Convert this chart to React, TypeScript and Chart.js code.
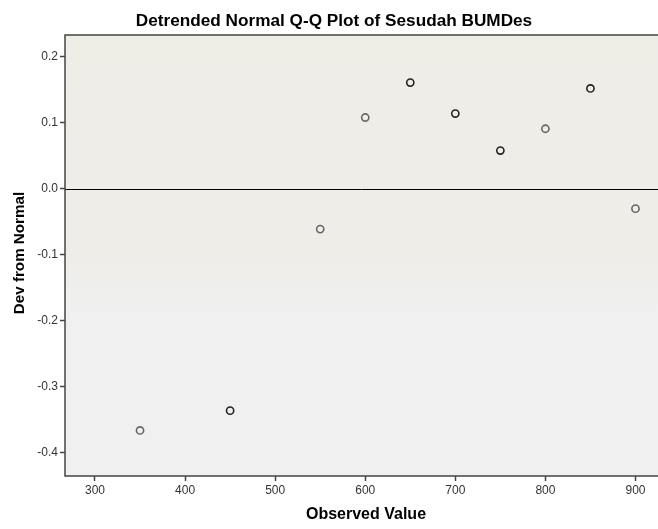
import React, { useEffect, useRef } from "react";
import { Chart, registerables } from "chart.js";

Chart.register(...registerables);

const observedValues = [350, 450, 550, 600, 650, 700, 750, 800, 850, 900];
const devFromNormal = [-0.366, -0.336, -0.061, 0.108, 0.161, 0.114, 0.058, 0.091, 0.152, -0.030];
const pointColors = ["#666666", "#222222", "#666666", "#666666", "#222222", "#222222", "#222222", "#666666", "#222222", "#666666"];
const xTicks = [300, 400, 500, 600, 700, 800, 900];
const yTicks = [-0.4, -0.3, -0.2, -0.1, 0.0, 0.1, 0.2];
const chartTitle = "Detrended Normal Q-Q Plot of Sesudah BUMDes";
const xTitle = "Observed Value";
const yTitle = "Dev from Normal";

const FONT = "Arial, 'Liberation Sans', sans-serif";

const decorPlugin = {
  id: "decor",
  beforeDatasetsDraw(chart: any) {
    const { ctx, chartArea } = chart;
    const { left, right, top, bottom } = chartArea;
    ctx.save();
    const g = ctx.createLinearGradient(0, top, 0, bottom);
    g.addColorStop(0, "#eeede6");
    g.addColorStop(0.5, "#eeede8");
    g.addColorStop(0.62, "#f0f0f0");
    g.addColorStop(1, "#f0f0f0");
    ctx.fillStyle = g;
    ctx.fillRect(left, top, right - left, bottom - top);
    // zero reference line
    const y0 = chart.scales.y.getPixelForValue(0);
    ctx.strokeStyle = "#000000";
    ctx.lineWidth = 1;
    ctx.beginPath();
    ctx.moveTo(left, Math.round(y0) + 0.5);
    ctx.lineTo(right, Math.round(y0) + 0.5);
    ctx.stroke();
    // frame
    ctx.strokeStyle = "#444444";
    ctx.lineWidth = 1.5;
    ctx.beginPath();
    ctx.moveTo(right, top);
    ctx.lineTo(left, top);
    ctx.lineTo(left, bottom);
    ctx.lineTo(right, bottom);
    ctx.stroke();
    ctx.restore();
  },
  afterDraw(chart: any) {
    const { ctx } = chart;
    ctx.save();
    ctx.fillStyle = "#000000";
    ctx.textAlign = "center";
    ctx.textBaseline = "middle";
    ctx.font = `bold 17.2px ${FONT}`;
    ctx.fillText(chartTitle, 334, 21);
    ctx.font = `bold 16px ${FONT}`;
    ctx.fillText(xTitle, 366, 515);
    ctx.translate(20, 253);
    ctx.rotate(-Math.PI / 2);
    ctx.font = `bold 15.2px ${FONT}`;
    ctx.fillText(yTitle, 0, 0);
    ctx.restore();
  },
};

export default function App() {
  const ref = useRef<HTMLCanvasElement | null>(null);
  useEffect(() => {
    document.body.style.margin = "0";
    document.body.style.background = "#ffffff";
    const chart = new Chart(ref.current as HTMLCanvasElement, {
      type: "scatter",
      data: {
        datasets: [
          {
            data: observedValues.map((x, i) => ({ x, y: devFromNormal[i] })),
            pointStyle: "circle",
            pointRadius: 3.6,
            pointBorderWidth: 1.6,
            pointBackgroundColor: "rgba(0,0,0,0)",
            pointBorderColor: pointColors,
            showLine: false,
          },
        ],
      },
      options: {
        animation: false,
        responsive: false,
        layout: { autoPadding: false, padding: { top: 35, left: 0, right: 0, bottom: 0 } },
        plugins: { legend: { display: false }, title: { display: false }, tooltip: { enabled: false } },
        scales: {
          x: {
            type: "linear",
            min: 266.7,
            max: 925,
            afterBuildTicks: (s: any) => {
              s.ticks = xTicks.map((v) => ({ value: v }));
            },
            afterFit: (s: any) => {
              s.height = 53;
            },
            grid: { drawOnChartArea: false, drawTicks: true, tickLength: 5, tickColor: "#444444", tickWidth: 1.5 },
            border: { display: false },
            ticks: { color: "#333333", font: { size: 12, family: FONT }, padding: 2, maxRotation: 0 },
          },
          y: {
            type: "linear",
            min: -0.435,
            max: 0.233,
            afterBuildTicks: (s: any) => {
              s.ticks = yTicks.map((v) => ({ value: v }));
            },
            afterFit: (s: any) => {
              s.width = 65;
            },
            grid: { drawOnChartArea: false, drawTicks: true, tickLength: 5, tickColor: "#444444", tickWidth: 1.5 },
            border: { display: false },
            ticks: {
              color: "#333333",
              font: { size: 12, family: FONT },
              padding: 2,
              callback: (v: any) => Number(v).toFixed(1),
            },
          },
        },
      },
      plugins: [decorPlugin],
    } as any);
    return () => chart.destroy();
  }, []);
  return (
    <div style={{ position: "absolute", left: 0, top: 0, width: 658, height: 529 }}>
      <canvas ref={ref} width={658} height={529} style={{ display: "block", width: 658, height: 529 }} />
    </div>
  );
}
